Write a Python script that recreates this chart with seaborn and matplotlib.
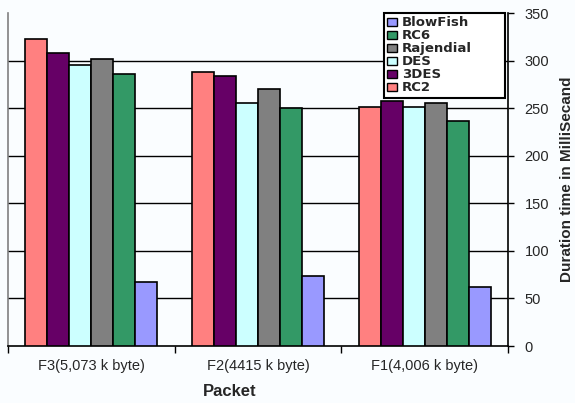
import numpy as np
import pandas as pd
import matplotlib.pyplot as plt
from matplotlib.patches import Patch
import seaborn as sns

sns.set_theme(style='white')
plt.rcParams['font.family'] = ['Liberation Sans', 'DejaVu Sans']

# values (ms)
packets = ['F3(5,073 k byte)', 'F2(4415 k byte)', 'F1(4,006 k byte)']
algos = ['RC2', '3DES', 'DES', 'Rajendial', 'RC6', 'BlowFish']
rc2 = [323, 288, 251]
des3 = [308, 284, 258]
des = [295, 255, 251]
rajendial = [302, 270, 255]
rc6 = [286, 250, 237]
blowfish = [67, 74, 62]
colors = ['#FF8080', '#660066', '#CCFFFF', '#808080', '#339966', '#9999FF']

series = [rc2, des3, des, rajendial, rc6, blowfish]
df = pd.DataFrame([
    {'Packet': p, 'Algorithm': a, 'Time': v}
    for a, vals in zip(algos, series)
    for p, v in zip(packets, vals)
])

fig = plt.figure(figsize=(5.75, 4.03), dpi=100)
fig.patch.set_facecolor('#FAFDFF')
ax = fig.add_axes([0.0139, 0.1414, 0.8696, 0.826])
ax.set_facecolor('#FAFDFF')

sns.barplot(data=df, x='Packet', y='Time', hue='Algorithm', order=packets,
            hue_order=algos, palette=colors, width=0.79, edgecolor='black',
            linewidth=1.2, saturation=1, legend=False, ax=ax, zorder=3)

ax.set_xlim(-0.5, 2.5)
ax.set_ylim(0, 350)
ax.set_yticks(np.arange(0, 351, 50))
for y in range(50, 301, 50):
    ax.axhline(y, color='black', lw=1, zorder=1)

ax.yaxis.tick_right()
ax.yaxis.set_label_position('right')
ax.tick_params(axis='y', which='major', right=True, length=4, width=1,
               color='black', labelsize=10.5, pad=8, direction='out')
ax.set_ylabel('Duration time in MilliSecand', fontsize=11, fontweight='bold',
              labelpad=8)

ax.set_xticks(range(len(packets)))
ax.set_xticklabels(packets, fontsize=10.5)
ax.set_xticks([-0.5, 0.5, 1.5, 2.5], minor=True)
ax.tick_params(axis='x', which='major', length=0, pad=9)
ax.tick_params(axis='x', which='minor', bottom=True, length=5, width=1,
               color='black', direction='out')
ax.set_xlabel('Packet', fontsize=12, fontweight='bold')
ax.xaxis.set_label_coords(0.444, -0.115)

ax.spines['top'].set_visible(False)
ax.spines['left'].set_color('#808080')
ax.spines['right'].set_color('black')
ax.spines['bottom'].set_color('black')
for s in ['left', 'right', 'bottom']:
    ax.spines[s].set_linewidth(1.2)

handles = [Patch(facecolor=c, edgecolor='black', label=a)
           for a, c in zip(algos, colors)][::-1]
leg = ax.legend(handles=handles, loc='upper left',
                bbox_to_anchor=(0.752, 0.748, 0.242, 0.252), mode='expand',
                prop={'weight': 'bold', 'size': 9.5, 'family': 'DejaVu Sans'},
                frameon=True, fancybox=False,
                framealpha=1, edgecolor='black', borderpad=0.25, labelspacing=0.0,
                handlelength=0.7, handleheight=0.6, handletextpad=0.4,
                borderaxespad=0.0)
leg.get_frame().set_linewidth(1.5)
leg.set_zorder(5)

fig.savefig('out.png', dpi=100, facecolor=fig.get_facecolor())
